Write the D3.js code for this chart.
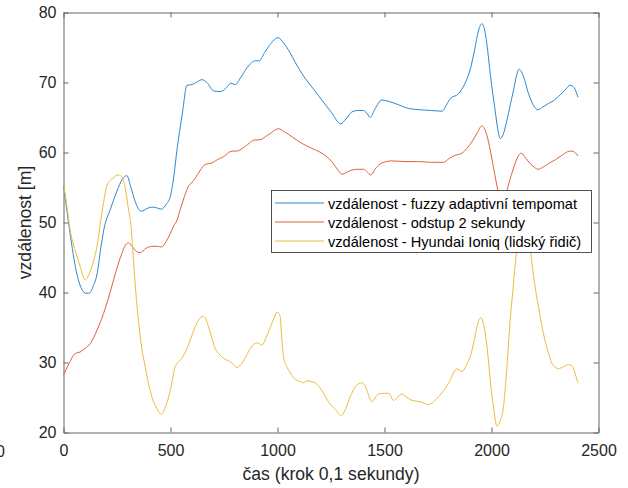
<!DOCTYPE html>
<html>
<head>
<meta charset="utf-8">
<script src="https://cdn.jsdelivr.net/npm/d3@7"></script>
<style>
  body { margin: 0; background: #fff; }
  svg { display: block; font-family: "Liberation Sans", Arial, sans-serif; }
</style>
</head>
<body>
<svg id="chart" width="628" height="488"></svg>
<script>
// legend labels
var seriesNames = [
  "vzdálenost - fuzzy adaptivní tempomat",
  "vzdálenost - odstup 2 sekundy",
  "vzdálenost - Hyundai Ioniq (lidský řidič)"
];

// [krok, vzdálenost]
var fuzzy = [[0,55.4],[30,48.6],[60,43],[85,40.5],[105,39.9],[120,39.9],[140,41],[156,42.5],[175,46.5],[190,49.2],
  [218,51.8],[250,54.5],[275,56.2],[296,56.7],[315,55.0],[335,53],[363,51.6],[390,52.0],[413,52.2],[435,52.1],
  [457,51.9],[480,52.6],[499,53.7],[515,56.5],[530,60.3],[555,65.5],[577,69.6],[600,69.7],[625,70.1],[647,70.4],
  [670,70.0],[701,68.8],[732,68.7],[760,69.2],[782,69.9],[802,69.7],[830,70.8],[860,72.2],[896,73.1],[914,73.1],
  [940,74.3],[970,75.6],[1002,76.4],[1030,75.6],[1052,74.6],[1090,72.5],[1129,70.6],[1170,69.0],[1207,67.5],
  [1250,65.8],[1296,64.1],[1320,64.8],[1348,65.8],[1375,66.0],[1402,66.0],[1420,65.5],[1433,65.0],[1455,66.2],
  [1488,67.5],[1520,67.3],[1550,67.0],[1612,66.3],[1667,66.1],[1720,66.0],[1768,65.9],[1790,66.8],[1807,67.7],
  [1846,68.4],[1875,69.8],[1900,71.8],[1920,74.5],[1940,77.5],[1955,78.4],[1968,77.5],[1978,75.6],[1995,71],
  [2017,66.0],[2030,63.2],[2041,62.0],[2055,62.6],[2072,64.6],[2100,68.5],[2129,71.9],[2150,70.8],[2173,68.4],
  [2195,66.8],[2217,66.1],[2240,66.5],[2266,67.0],[2290,67.4],[2313,68.0],[2340,68.8],[2368,69.6],[2385,69.3],
  [2404,67.9]];

var odstup = [[0,28.2],[25,29.8],[55,31.3],[78,31.5],[100,32],[125,32.7],[155,34.5],[187,37.0],[210,39.2],[234,41.8],
  [255,44],[273,45.6],[290,46.8],[304,47.1],[320,46.6],[340,45.9],[358,45.7],[385,46.3],[413,46.6],[440,46.6],
  [457,46.5],[480,47.3],[499,48.4],[515,49.5],[530,50.3],[545,51.8],[565,53.7],[584,55.2],[600,55.7],[615,56.3],
  [640,57.5],[662,58.3],[693,58.5],[720,59.0],[748,59.4],[787,60.2],[810,60.2],[850,60.9],[896,61.8],[914,61.8],
  [960,62.6],[1005,63.4],[1030,63.0],[1070,62.2],[1114,61.3],[1160,60.6],[1207,59.9],[1254,58.7],[1280,57.6],
  [1301,56.9],[1325,57.2],[1348,57.5],[1375,57.6],[1402,57.6],[1420,57.2],[1436,56.8],[1460,57.8],[1488,58.5],
  [1535,58.8],[1600,58.7],[1659,58.7],[1720,58.6],[1776,58.6],[1800,59.1],[1830,59.6],[1862,59.9],[1885,60.6],
  [1908,61.5],[1935,62.9],[1955,63.8],[1967,63.4],[1978,62.5],[1995,60.2],[2009,57.9],[2030,54.6],[2048,52.8],
  [2060,53.3],[2072,54.6],[2100,57.5],[2125,59.5],[2139,59.9],[2160,59.2],[2181,58.4],[2200,57.9],[2217,57.6],
  [2240,57.9],[2266,58.4],[2300,59.0],[2329,59.6],[2355,60.1],[2376,60.2],[2390,60.0],[2404,59.5]];

var ioniq = [[0,55.6],[15,52.5],[31,48.9],[55,46],[78,43.7],[101,41.8],[118,42.5],[133,43.7],[145,45],[156,46.5],
  [171,49.6],[188,53],[203,55.3],[230,56.3],[257,56.8],[270,56.6],[280,56.0],[292,54.3],[304,51.8],[315,49.6],
  [327,44.6],[338,40],[350,36.0],[365,32.2],[382,29.4],[397,27],[413,25.1],[435,23.5],[457,22.6],[478,23.8],
  [499,26.0],[522,29.4],[553,30.6],[577,32.0],[597,33.6],[615,35.1],[635,36.2],[651,36.6],[665,36.2],[678,35.1],
  [695,33.3],[709,32.0],[730,31.1],[748,30.6],[779,30.1],[795,29.7],[810,29.3],[834,29.9],[860,31.3],[888,32.6],
  [907,32.8],[927,32.5],[950,33.8],[974,35.6],[990,36.8],[997,37.2],[1005,37.0],[1013,36.5],[1020,33.5],[1028,30.8],
  [1040,29.6],[1052,28.9],[1083,27.6],[1105,27.3],[1121,27.1],[1137,27.4],[1156,27.3],[1176,27.1],[1210,25.9],
  [1238,24.4],[1270,23.3],[1298,22.4],[1320,23.5],[1340,25.1],[1365,26.6],[1394,27.1],[1408,26.7],[1418,26.0],
  [1441,24.4],[1472,25.5],[1500,25.6],[1519,25.6],[1542,24.6],[1581,25.5],[1600,25.1],[1628,24.6],[1667,24.4],
  [1706,24.0],[1752,25.1],[1799,27.0],[1838,29.1],[1850,28.9],[1862,28.7],[1885,29.8],[1900,30.8],[1918,33],
  [1932,35.1],[1950,36.4],[1962,35.6],[1971,34.1],[1985,30.5],[1994,27.5],[2010,23.5],[2025,20.9],[2040,21.6],
  [2056,23.7],[2070,28.5],[2087,36.0],[2100,40.3],[2111,44.1],[2126,47.9],[2140,52],[2153,53.5],[2168,51],
  [2181,46.5],[2204,40.8],[2225,37],[2243,34.1],[2262,31.8],[2282,29.9],[2300,29.3],[2313,29.1],[2335,29.4],
  [2360,29.7],[2379,29.4],[2390,28.5],[2404,27.1]];

var xTicks = [0, 500, 1000, 1500, 2000, 2500];
var yTicks = [20, 30, 40, 50, 60, 70, 80];
var colors = ["#2c88cf", "#de6338", "#efbb3c"];

var svg = d3.select("#chart");
var x = d3.scaleLinear().domain([0, 2500]).range([63.5, 598.5]);
var y = d3.scaleLinear().domain([20, 80]).range([432.5, 12.5]);
var fmt = d3.format("d");

// axes, MATLAB style: ticks inside, box all round
svg.append("g")
    .attr("transform", "translate(0,432.5)")
    .call(d3.axisBottom(x).tickValues(xTicks).tickFormat(fmt).tickSize(-5).tickSizeOuter(0).tickPadding(12))
    .call(g => g.selectAll("text").attr("font-size", "16px"));
svg.append("g")
    .attr("transform", "translate(0,12.5)")
    .call(d3.axisTop(x).tickValues(xTicks).tickSize(-5).tickSizeOuter(0).tickFormat(""));
svg.append("g")
    .attr("transform", "translate(63.5,0)")
    .call(d3.axisLeft(y).tickValues(yTicks).tickFormat(fmt).tickSize(-5).tickSizeOuter(0).tickPadding(7))
    .call(g => g.selectAll("text").attr("font-size", "16px"));
svg.append("g")
    .attr("transform", "translate(598.5,0)")
    .call(d3.axisRight(y).tickValues(yTicks).tickSize(-5).tickSizeOuter(0).tickFormat(""));

svg.selectAll(".domain, .tick line").attr("stroke", "#666");
svg.selectAll(".tick text").attr("fill", "#262626").attr("font-family", "Liberation Sans, Arial, sans-serif");

// lines
var line = d3.line()
    .x(d => x(d[0]))
    .y(d => y(d[1]))
    .curve(d3.curveMonotoneX);

[fuzzy, odstup, ioniq].forEach(function (s, i) {
  svg.append("path")
      .attr("d", line(s))
      .attr("fill", "none")
      .attr("stroke", colors[i])
      .attr("stroke-width", 1);
});

// axis labels
svg.append("text")
    .attr("x", 331)
    .attr("y", 480)
    .attr("text-anchor", "middle")
    .attr("font-size", "17.6px")
    .attr("fill", "#262626")
    .text("čas (krok 0,1 sekundy)");

svg.append("text")
    .attr("transform", "translate(31,222.5) rotate(-90)")
    .attr("text-anchor", "middle")
    .attr("font-size", "17.6px")
    .attr("fill", "#262626")
    .text("vzdálenost [m]");

// leftover "0" from the original figure, half off the left edge
svg.append("text")
    .attr("x", 5)
    .attr("y", 457)
    .attr("text-anchor", "end")
    .attr("font-size", "16px")
    .attr("fill", "#262626")
    .text("0");

// legend
var legend = svg.append("g");
legend.append("rect")
    .attr("x", 271.5)
    .attr("y", 190.5)
    .attr("width", 320)
    .attr("height", 62)
    .attr("fill", "#fff")
    .attr("stroke", "#262626")
    .attr("stroke-width", 0.8);

var rowY = [203, 222, 241];
for (var k = 0; k < seriesNames.length; k++) {
  legend.append("line")
      .attr("x1", 275)
      .attr("x2", 324)
      .attr("y1", rowY[k])
      .attr("y2", rowY[k])
      .attr("stroke", colors[k])
      .attr("stroke-width", 1);
  legend.append("text")
      .attr("x", 328)
      .attr("y", rowY[k] + 5.5)
      .attr("font-size", "14.6px")
      .attr("fill", "#000")
      .text(seriesNames[k]);
}
</script>
</body>
</html>
